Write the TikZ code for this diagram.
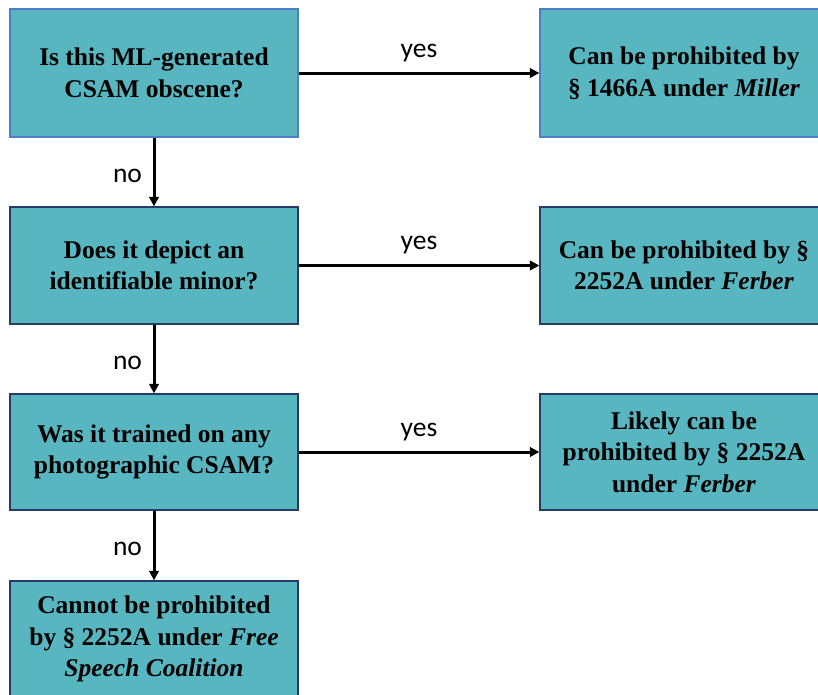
\documentclass[tikz,border=0pt]{standalone}
\usepackage{fontspec}
\setmainfont{Liberation Serif}
\newfontfamily\labelfont{Carlito}
\usetikzlibrary{arrows.meta}
\definecolor{boxfill}{RGB}{87,182,192}
\definecolor{boxedge}{RGB}{38,60,100}
\definecolor{boxedgelight}{RGB}{80,125,200}
\tikzset{
  flowbox/.style={draw=boxedge, line width=1.3pt, fill=boxfill, minimum width=288pt,
    align=center, inner sep=2pt, font=\fontsize{25.5}{31.5}\selectfont\bfseries},
  flowarrow/.style={line width=3pt, -{Triangle[length=9.5pt,width=9.5pt]}},
  edgelabel/.style={font=\labelfont\fontsize{27.5}{30}\selectfont, inner sep=0pt, anchor=base}
}
\begin{document}
\begin{tikzpicture}[x=1pt,y=-1pt]
\useasboundingbox (0,0) rectangle (818,694);
\clip (0,0) rectangle (818,694);
\fill[white] (0,0) rectangle (818,694);
\node[flowbox, draw=boxedgelight, minimum height=128pt] (q1) at (154,73) {Is this ML-generated\\CSAM obscene?};
\node[flowbox, draw=boxedgelight, minimum height=128pt] (a1) at (684,73) {Can be prohibited by\\\S\ 1466A under \textit{Miller}};
\node[flowbox, minimum height=117pt] (q2) at (154,265.5) {Does it depict an\\identifiable minor?};
\node[flowbox, minimum height=117pt] (a2) at (684,265.5) {Can be prohibited by \S\\2252A under \textit{Ferber}};
\node[flowbox, minimum height=116pt] (q3) at (154,452) {Was it trained on any\\photographic CSAM?};
\node[flowbox, minimum height=116pt] (a3) at (684,452) {Likely can be\\prohibited by \S\ 2252A\\under \textit{Ferber}};
\node[flowbox, minimum height=116pt] (q4) at (154,639) {Cannot be prohibited\\by \S\ 2252A under \textit{Free}\\\textit{Speech Coalition}};
\draw[flowarrow] (q1.east) -- node[edgelabel, midway, yshift=16pt] {yes} (a1.west);
\draw[flowarrow] (q2.east) -- node[edgelabel, midway, yshift=16pt] {yes} (a2.west);
\draw[flowarrow] (q3.east) -- node[edgelabel, midway, yshift=16pt] {yes} (a3.west);
\draw[flowarrow] (q1.south) -- node[edgelabel, midway, xshift=-26.5pt, yshift=-10pt] {no} (q2.north);
\draw[flowarrow] (q2.south) -- node[edgelabel, midway, xshift=-26.5pt, yshift=-10pt] {no} (q3.north);
\draw[flowarrow] (q3.south) -- node[edgelabel, midway, xshift=-26.5pt, yshift=-10pt] {no} (q4.north);
\end{tikzpicture}
\end{document}
